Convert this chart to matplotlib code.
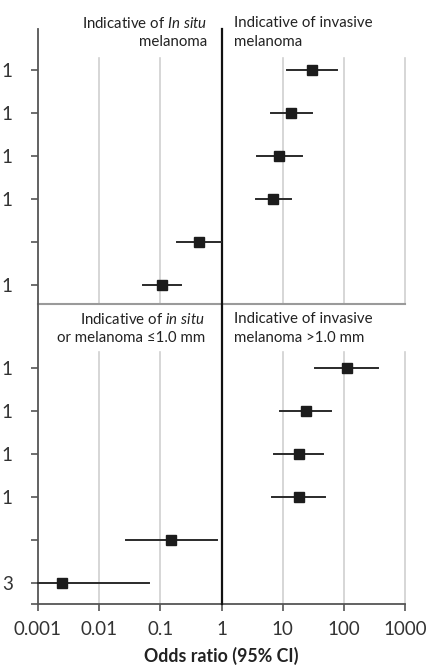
import matplotlib
matplotlib.use("Agg")
import matplotlib.pyplot as plt
import numpy as np

plt.rcParams['font.family'] = ['Lato', 'DejaVu Sans']
plt.rcParams['mathtext.fontset'] = 'custom'
plt.rcParams['mathtext.rm'] = 'Lato'
plt.rcParams['mathtext.it'] = 'Lato:italic'

# Odds ratios with 95% confidence intervals, rows listed top to bottom
row_labels_top = ["1", "1", "1", "1", "", "1"]
or_top = [30, 13.7, 8.7, 7.0, 0.43, 0.107]
lo_top = [11.8, 6.4, 3.8, 3.7, 0.19, 0.052]
hi_top = [76, 29.5, 20.3, 13.4, 0.98, 0.22]

row_labels_bot = ["1", "1", "1", "1", "", "3"]
or_bot = [110, 23.5, 18.3, 18.3, 0.148, 0.0025]
lo_bot = [33, 9.1, 7.2, 6.7, 0.0276, 0.001]
hi_bot = [356, 61, 46, 49, 0.83, 0.065]

xticks = [0.001, 0.01, 0.1, 1, 10, 100, 1000]
xtick_labels = ["0.001", "0.01", "0.1", "1", "10", "100", "1000"]

W, H = 430, 668
fig = plt.figure(figsize=(W / 100, H / 100), dpi=100)
left_px, right_px, bottom_px, top_px = 37.7, 405.3, 604, 29
ax = fig.add_axes([left_px / W, (H - bottom_px) / H,
                   (right_px - left_px) / W, (bottom_px - top_px) / H])

unit = 42.9
ytop = (bottom_px - top_px) / unit
sep = 7.0
y_bot = [5.5 - i for i in range(6)]
y_top = [12.44 - i for i in range(6)]

ax.set_xscale('log')
ax.set_xlim(0.001, 1000)
ax.set_ylim(0, ytop)

grid_c = '#d0d0d0'
for xv in [0.01, 0.1, 10, 100, 1000]:
    ax.plot([xv, xv], [sep, 12.73], color=grid_c, lw=1.2, zorder=1, clip_on=False)
    ax.plot([xv, xv], [0, 5.87], color=grid_c, lw=1.2, zorder=1, clip_on=False)

ax.plot([0.001, 1000], [sep, sep], color='#9a9a9a', lw=1.5, zorder=2, clip_on=False)
ax.plot([1, 1], [0, ytop], color='#111111', lw=1.6, zorder=3, clip_on=False)

for ys, o, lo, hi in [(y_top, or_top, lo_top, hi_top), (y_bot, or_bot, lo_bot, hi_bot)]:
    for y, v, l, h in zip(ys, o, lo, hi):
        ax.plot([l, h], [y, y], color='#2a2a2a', lw=1.4, zorder=4, clip_on=False)
        ax.plot([v], [y], marker='s', ms=7.5, color='#1c1c1c', zorder=5, clip_on=False)

for s in ['top', 'right']:
    ax.spines[s].set_visible(False)
for s in ['left', 'bottom']:
    ax.spines[s].set_color('#555555')
    ax.spines[s].set_linewidth(1.3)

ax.set_xticks(xticks)
ax.set_xticklabels(xtick_labels, fontsize=13.5, color='#333333')
ax.xaxis.set_minor_locator(matplotlib.ticker.NullLocator())
ax.tick_params(axis='x', length=5, width=1.2, color='#555555', pad=7)

yt = y_top + y_bot + [0]
yl = row_labels_top + row_labels_bot + [""]
ax.set_yticks(yt)
ax.set_yticklabels(yl, fontsize=13.5, color='#333333')
ax.tick_params(axis='y', length=5, width=1.2, color='#555555', pad=13)

ax.set_xlabel("Odds ratio (95% CI)", fontsize=12.8, fontweight='bold',
              color='#222222', labelpad=7)

hdr = dict(fontsize=10.8, color='#222222', va='center')
def fx(px):
    return px / W
def fy(py):
    return 1 - py / H

fig.text(fx(207), fy(23), "Indicative of $\\mathit{In\\ situ}$", ha='right', **hdr)
fig.text(fx(207), fy(42), "melanoma", ha='right', **hdr)
fig.text(fx(234), fy(23), "Indicative of invasive", ha='left', **hdr)
fig.text(fx(234), fy(42), "melanoma", ha='left', **hdr)
fig.text(fx(205), fy(319), "Indicative of $\\mathit{in\\ situ}$", ha='right', **hdr)
fig.text(fx(205), fy(338), "or melanoma ≤1.0 mm", ha='right', **hdr)
fig.text(fx(234), fy(319), "Indicative of invasive", ha='left', **hdr)
fig.text(fx(234), fy(338), "melanoma >1.0 mm", ha='left', **hdr)

fig.savefig("out.png", dpi=100)
